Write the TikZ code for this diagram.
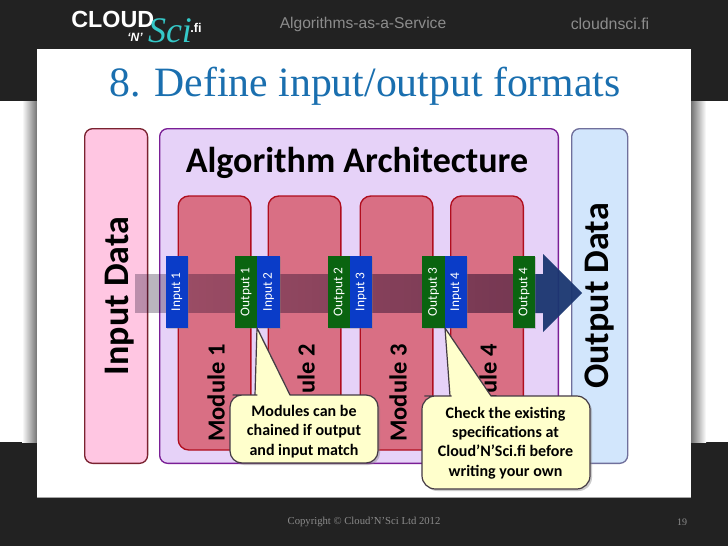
\documentclass[tikz,border=0pt]{standalone}
\usepackage{fontspec}
\setmainfont{Carlito}
\newfontfamily\hdfont{Liberation Sans}
\newfontfamily\serifont{Liberation Serif}
\usetikzlibrary{shadows,calc,fadings}
\definecolor{darkbg}{HTML}{222222}
\definecolor{titleblue}{HTML}{1A6FAF}
\definecolor{cyanlogo}{HTML}{35C8C8}
\definecolor{headgrey}{HTML}{8C8C8C}
\definecolor{pinkfill}{HTML}{FFC6E2}
\definecolor{pinkline}{HTML}{7A2230}
\definecolor{purplefill}{HTML}{E6D2F8}
\definecolor{purpleline}{HTML}{7A1F96}
\definecolor{bluefill}{HTML}{D2E6FC}
\definecolor{blueline}{HTML}{70709C}
\definecolor{modfill}{HTML}{D96F84}
\definecolor{modline}{HTML}{B00E1E}
\definecolor{intag}{HTML}{0A3CC8}
\definecolor{outtag}{HTML}{0A6410}
\definecolor{navy}{HTML}{1A3670}
\definecolor{banddark}{HTML}{100020}
\definecolor{calloutfill}{HTML}{FFFFCC}
\definecolor{calloutline}{HTML}{443A44}
\tikzfading[name=bandfade,left color=transparent!72,right color=transparent!50]
\tikzset{
  side/.style={rounded corners=6pt,line width=1pt,anchor=north west,inner sep=0pt},
  sidetext/.style={rotate=90,font=\bfseries\fontsize{27}{30}\selectfont},
  modbox/.style={draw=modline,fill=modfill,line width=1pt,rounded corners=8pt,minimum width=54.5pt,minimum height=190.5pt,inner sep=0pt},
  modtext/.style={rotate=90,font=\bfseries\fontsize{18.4}{22}\selectfont},
  tagbox/.style={minimum width=16.6pt,minimum height=54pt,inner sep=0pt,text=white,font=\fontsize{10}{12}\selectfont,
     drop shadow={shadow xshift=0.8pt,shadow yshift=-0.8pt,opacity=.35}},
  intagbox/.style={tagbox,fill=intag},
  outtagbox/.style={tagbox,fill=outtag},
  callout/.style={fill=calloutfill,draw=calloutline,line width=.9pt,line join=round},
  callouttext/.style={align=center,font=\bfseries\fontsize{12}{14.5}\selectfont,text=black},
}
\begin{document}
\begin{tikzpicture}[x=0.75pt,y=-0.75pt]
\useasboundingbox (0,0) rectangle (728,546);
% background
\fill[white] (0,0) rectangle (728,546);
\fill[darkbg] (0,0) rectangle (728,101);
\fill[darkbg] (0,442) rectangle (728,546);
% slide shadow
\shade[left color=white,right color=black!55] (22,101) rectangle (37,442);
\shade[left color=black!55,right color=white] (691,101) rectangle (706,442);
\fill[white] (37,49) rectangle (691,497);
\draw[black!35,line width=.6pt] (37,497) -- (691,497);
% header
\node[font=\hdfont\bfseries\fontsize{17.5}{19}\selectfont,text=white,anchor=west,inner sep=0pt] (logo) at (71,19) {CLOUD};
\node[font=\hdfont\bfseries\itshape\fontsize{9}{10}\selectfont,text=white,inner sep=0pt] (logon) at (135,37) {‘N’};
\node[font=\serifont\itshape\fontsize{27}{29}\selectfont,text=cyanlogo,inner sep=0pt] (logosci) at (170,31) {Sci};
\node[font=\hdfont\bfseries\fontsize{9.5}{11}\selectfont,text=white,inner sep=0pt] (logofi) at (196,28) {.fi};
\node[font=\hdfont\fontsize{11.7}{13}\selectfont,text=headgrey,inner sep=0pt] (hdA) at (363,24) {Algorithms-as-a-Service};
\node[font=\hdfont\fontsize{11.9}{13}\selectfont,text=headgrey,inner sep=0pt] (hdB) at (610,24) {cloudnsci.fi};
% title
\node[font=\serifont\fontsize{31.3}{34}\selectfont,text=titleblue,inner sep=0pt] (title) at (365,86) {8. Define input/output formats};
% side panels
\node[side,draw=pinkline,fill=pinkfill,minimum width=47.2pt,minimum height=251pt] (inbox) at (84,128) {};
\node[side,draw=purpleline,fill=purplefill,minimum width=299pt,minimum height=251pt] (arch) at (159,128) {};
\node[side,draw=blueline,fill=bluefill,minimum width=42pt,minimum height=251pt] (outbox) at (571,128) {};
\node[sidetext] (inlab) at (120,296) {Input Data};
\node[sidetext] (outlab) at (600,296) {Output Data};
\node[font=\bfseries\fontsize{27}{30}\selectfont,inner sep=0pt] (archlab) at (357,163) {Algorithm Architecture};
% modules
\node[modbox] (m1) at (214.5,323) {};
\node[modbox] (m2) at (304.5,323) {};
\node[modbox] (m3) at (396.5,323) {};
\node[modbox] (m4) at (487,323) {};
\node[modtext] (m1t) at (216,393) {Module 1};
\node[modtext] (m2t) at (306,393) {Module 2};
\node[modtext] (m3t) at (398,393) {Module 3};
\node[modtext] (m4t) at (488,393) {Module 4};
% arrow
\fill[banddark,path fading=bandfade] (135,274) rectangle (530,313);
\fill[navy,opacity=.95] (530,274) -- (543,274) -- (543,254) -- (582,293) -- (543,332) -- (543,313) -- (530,313) -- cycle;
% tags
\node[intagbox] (i1) at (177,292) {\rotatebox{90}{Input 1}};
\node[outtagbox] (o1) at (246,292) {\rotatebox{90}{Output 1}};
\node[intagbox] (i2) at (268.5,292) {\rotatebox{90}{Input 2}};
\node[outtagbox] (o2) at (339,292) {\rotatebox{90}{Output 2}};
\node[intagbox] (i3) at (361,292) {\rotatebox{90}{Input 3}};
\node[outtagbox] (o3) at (433.5,292) {\rotatebox{90}{Output 3}};
\node[intagbox] (i4) at (456,292) {\rotatebox{90}{Input 4}};
\node[outtagbox] (o4) at (524,292) {\rotatebox{90}{Output 4}};
% callouts
\path[callout,rounded corners=9pt,drop shadow={shadow xshift=1.5pt,shadow yshift=-1.5pt,opacity=.4}]
  (245,395) [sharp corners] -- (255,395) -- (257,328) -- (290,395) [rounded corners=9pt] -- (378,395)
  -- (378,463) -- (230,463) -- (230,395) -- cycle;
\node[callouttext] (c1) at (304,431.5) {Modules can be\\chained if output\\and input match};
\path[callout,rounded corners=10pt,drop shadow={shadow xshift=1.5pt,shadow yshift=-1.5pt,opacity=.4}]
  (438,396) [sharp corners] -- (450,396) -- (445,328) -- (491,396) [rounded corners=10pt] -- (590,396)
  -- (590,489) -- (422,489) -- (422,396) -- cycle;
\node[callouttext] (c2) at (505.5,443) {Check the existing\\specifications at\\Cloud’N’Sci.fi before\\writing your own};
% footer
\node[font=\serifont\fontsize{8}{9}\selectfont,text=black!45,inner sep=0pt] (copy) at (364,522) {Copyright © Cloud’N’Sci Ltd  2012};
\node[font=\serifont\fontsize{7.5}{9}\selectfont,text=black!45,inner sep=0pt] (pg) at (682,522) {19};
\end{tikzpicture}
\end{document}
